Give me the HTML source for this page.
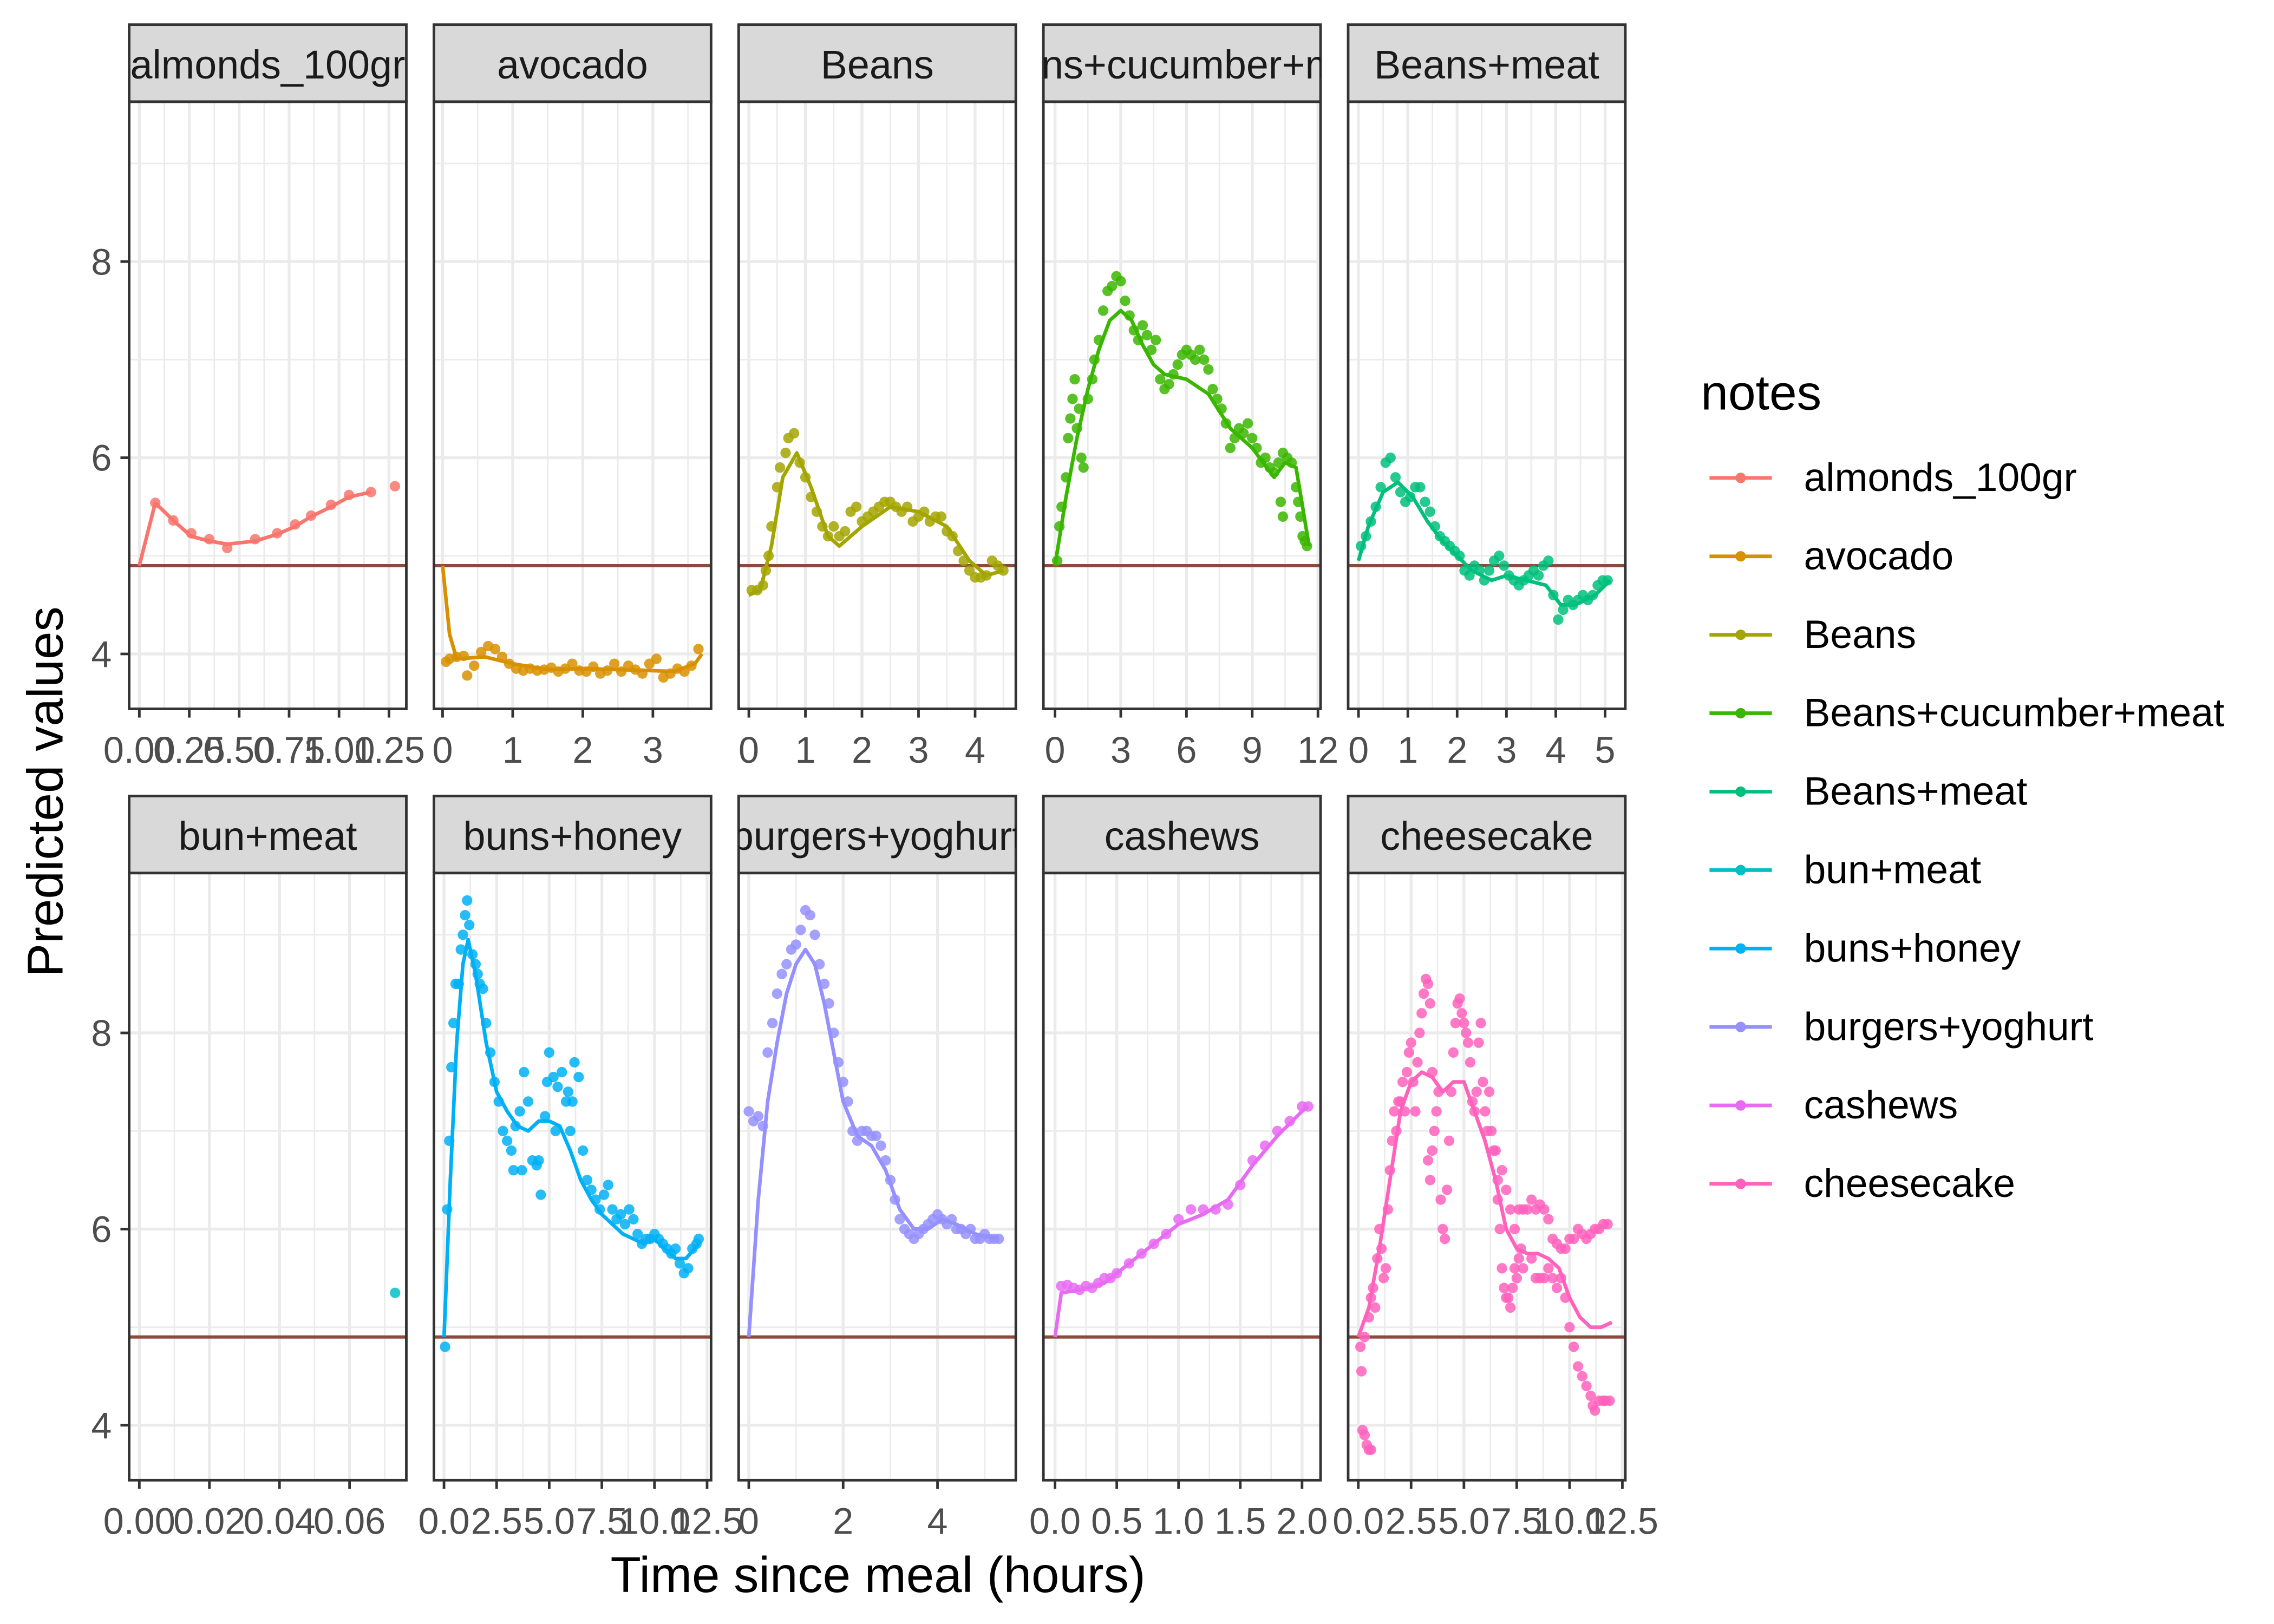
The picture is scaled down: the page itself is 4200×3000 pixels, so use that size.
<!DOCTYPE html>
<html><head><meta charset="utf-8"><style>html,body{margin:0;padding:0;background:#fff}svg{display:block}</style></head>
<body>
<svg id="chart" width="4200" height="3000" viewBox="0 0 1567 1118" preserveAspectRatio="none" xmlns="http://www.w3.org/2000/svg" font-family="Liberation Sans, Arial, sans-serif"></svg>
<script>
const panelNames = ["almonds_100gr","avocado","Beans","Beans+cucumber+meat","Beans+meat","bun+meat","buns+honey","burgers+yoghurt","cashews","cheesecake"];
const panelColors = ["#F8766D","#D89000","#A3A500","#39B600","#00BF7D","#00BFC4","#00B0F6","#9590FF","#E76BF3","#FF62BC"];
const xDomains = [[-0.051,1.337],[-0.124,3.83],[-0.18,4.72],[-0.53,12.12],[-0.21,5.41],[-0.0029,0.0762],[-0.48,12.69],[-0.215,5.66],[-0.094,2.15],[-0.48,12.64]];
const xTicks = [[0,0.25,0.5,0.75,1,1.25],[0,1,2,3],[0,1,2,3,4],[0,3,6,9,12],[0,1,2,3,4,5],[0,0.02,0.04,0.06],[0,2.5,5,7.5,10,12.5],[0,2,4],[0,0.5,1,1.5,2],[0,2.5,5,7.5,10,12.5]];
const xTickLabels = [["0.00","0.25","0.50","0.75","1.00","1.25"],["0","1","2","3"],["0","1","2","3","4"],["0","3","6","9","12"],["0","1","2","3","4","5"],["0.00","0.02","0.04","0.06"],["0.0","2.5","5.0","7.5","10.0","12.5"],["0","2","4"],["0.0","0.5","1.0","1.5","2.0"],["0.0","2.5","5.0","7.5","10.0","12.5"]];
const yTicks = [4,6,8];
const yMinor = [5,7,9];
const refLine = 4.9;

const pts0 = [[0.08,5.54],[0.17,5.36],[0.26,5.23],[0.35,5.17],[0.44,5.08],[0.58,5.17],[0.69,5.23],[0.78,5.32],[0.86,5.41],[0.96,5.52],[1.05,5.62],[1.16,5.65],[1.28,5.71]];
const fit0 = [[0,4.9],[0.08,5.54],[0.17,5.36],[0.26,5.2],[0.35,5.15],[0.44,5.12],[0.58,5.15],[0.69,5.22],[0.78,5.3],[0.86,5.4],[0.96,5.5],[1.05,5.6],[1.16,5.65]];
const pts1 = [[0.05,3.92],[0.1,3.95],[0.2,3.97],[0.3,3.98],[0.35,3.78],[0.45,3.88],[0.55,4.02],[0.65,4.08],[0.75,4.05],[0.85,3.97],[0.95,3.9],[1.05,3.85],[1.15,3.83],[1.25,3.85],[1.35,3.83],[1.45,3.84],[1.55,3.86],[1.65,3.82],[1.75,3.85],[1.85,3.9],[1.95,3.83],[2.05,3.82],[2.15,3.87],[2.25,3.8],[2.35,3.83],[2.45,3.9],[2.55,3.82],[2.65,3.88],[2.75,3.84],[2.85,3.8],[2.95,3.9],[3.05,3.95],[3.15,3.76],[3.25,3.8],[3.35,3.85],[3.45,3.82],[3.55,3.88],[3.65,4.05]];
const fit1 = [[0,4.9],[0.1,4.2],[0.2,3.95],[0.6,3.97],[1,3.9],[1.5,3.84],[2,3.85],[2.5,3.84],[3,3.83],[3.3,3.82],[3.6,3.9],[3.7,4.0]];
const pts2 = [[0.05,4.65],[0.15,4.65],[0.25,4.7],[0.3,4.85],[0.35,5.0],[0.4,5.3],[0.5,5.7],[0.55,5.9],[0.65,6.05],[0.7,6.2],[0.8,6.25],[0.9,5.95],[1.0,5.8],[1.1,5.6],[1.2,5.45],[1.3,5.3],[1.4,5.2],[1.5,5.3],[1.6,5.2],[1.7,5.25],[1.8,5.45],[1.9,5.5],[2.0,5.35],[2.1,5.4],[2.2,5.45],[2.3,5.5],[2.4,5.55],[2.5,5.55],[2.6,5.5],[2.7,5.45],[2.8,5.5],[2.9,5.35],[3.0,5.4],[3.1,5.45],[3.2,5.35],[3.3,5.4],[3.4,5.4],[3.5,5.25],[3.6,5.2],[3.7,5.05],[3.8,4.95],[3.9,4.85],[4.0,4.78],[4.1,4.78],[4.2,4.8],[4.3,4.95],[4.4,4.9],[4.5,4.85]];
const fit2 = [[0,4.6],[0.2,4.65],[0.4,5.1],[0.6,5.8],[0.85,6.05],[1.1,5.7],[1.4,5.2],[1.6,5.1],[2,5.3],[2.5,5.5],[3,5.45],[3.5,5.3],[3.9,4.95],[4.2,4.8],[4.5,4.85]];
const pts3 = [[0.1,4.95],[0.2,5.3],[0.3,5.5],[0.5,5.8],[0.6,6.2],[0.7,6.4],[0.8,6.6],[0.9,6.8],[1.0,6.3],[1.1,6.5],[1.2,6.0],[1.3,5.9],[1.5,6.6],[1.7,6.8],[1.8,7.0],[2.0,7.2],[2.2,7.5],[2.4,7.7],[2.6,7.75],[2.8,7.85],[3.0,7.8],[3.2,7.6],[3.4,7.45],[3.6,7.3],[3.8,7.2],[4.0,7.35],[4.2,7.25],[4.4,7.1],[4.6,7.2],[4.8,6.8],[5.0,6.7],[5.2,6.75],[5.4,6.85],[5.6,6.95],[5.8,7.05],[6.0,7.1],[6.2,7.05],[6.4,7.0],[6.6,7.1],[6.8,7.0],[7.0,6.9],[7.2,6.7],[7.4,6.6],[7.6,6.5],[7.8,6.35],[8.0,6.1],[8.2,6.2],[8.4,6.3],[8.6,6.25],[8.8,6.35],[9.0,6.2],[9.2,6.1],[9.4,5.95],[9.6,6.0],[9.8,5.9],[10.0,5.85],[10.2,5.95],[10.4,6.05],[10.6,6.0],[10.8,5.95],[11.0,5.7],[11.1,5.55],[11.2,5.4],[11.3,5.2],[11.4,5.15],[11.5,5.1],[10.3,5.55],[10.4,5.4]];
const fit3 = [[0,4.9],[0.5,5.6],[1,6.2],[1.5,6.7],[2,7.1],[2.5,7.4],[3,7.5],[3.5,7.4],[4,7.15],[4.5,6.95],[5,6.85],[6,6.8],[7,6.65],[8,6.3],[9,6.1],[9.5,5.95],[10,5.8],[10.5,5.95],[11,5.9],[11.3,5.5],[11.6,5.1]];
const pts4 = [[0.05,5.1],[0.15,5.2],[0.25,5.35],[0.35,5.5],[0.45,5.7],[0.55,5.95],[0.65,6.0],[0.75,5.8],[0.85,5.65],[0.95,5.55],[1.05,5.6],[1.15,5.7],[1.25,5.7],[1.35,5.55],[1.45,5.45],[1.55,5.3],[1.65,5.2],[1.75,5.15],[1.85,5.1],[1.95,5.05],[2.05,5.0],[2.15,4.85],[2.25,4.8],[2.35,4.9],[2.45,4.85],[2.55,4.75],[2.65,4.85],[2.75,4.95],[2.85,5.0],[2.95,4.9],[3.05,4.8],[3.15,4.75],[3.25,4.7],[3.35,4.75],[3.45,4.8],[3.55,4.85],[3.65,4.8],[3.75,4.9],[3.85,4.95],[3.95,4.6],[4.05,4.35],[4.15,4.45],[4.25,4.55],[4.35,4.5],[4.45,4.55],[4.55,4.6],[4.65,4.55],[4.75,4.6],[4.85,4.7],[4.95,4.75],[5.05,4.75]];
const fit4 = [[0,4.95],[0.2,5.3],[0.5,5.65],[0.8,5.75],[1.1,5.6],[1.4,5.35],[1.7,5.15],[2,5.0],[2.3,4.85],[2.7,4.75],[3,4.8],[3.4,4.75],[3.8,4.7],[4.1,4.5],[4.4,4.5],[4.8,4.6],[5.1,4.75]];
const pts5 = [[0.073,5.35]];
const fit5 = [];
const pts6 = [[0.05,4.8],[0.15,6.2],[0.25,6.9],[0.35,7.65],[0.45,8.1],[0.55,8.5],[0.7,8.5],[0.8,8.85],[0.9,9.0],[1.0,9.2],[1.1,9.35],[1.2,9.1],[1.35,8.8],[1.5,8.7],[1.6,8.6],[1.7,8.5],[1.85,8.45],[2.0,8.1],[2.2,7.8],[2.4,7.5],[2.6,7.3],[2.8,7.0],[3.0,6.9],[3.2,6.8],[3.4,7.05],[3.6,7.2],[3.8,7.6],[4.0,7.3],[4.2,6.7],[4.4,6.65],[4.6,6.35],[4.8,7.15],[5.0,7.8],[5.2,7.55],[5.4,7.45],[5.6,7.6],[5.8,7.3],[6.0,7.0],[6.2,7.7],[6.4,7.55],[6.6,6.8],[6.8,6.5],[7.0,6.4],[7.2,6.3],[7.4,6.2],[7.6,6.35],[7.8,6.45],[8.0,6.2],[8.2,6.1],[8.4,6.15],[8.6,6.05],[8.8,6.2],[9.0,6.1],[9.2,5.95],[9.4,5.85],[9.6,5.9],[9.8,5.9],[10.0,5.95],[10.2,5.9],[10.4,5.85],[10.6,5.8],[10.8,5.75],[11.0,5.8],[11.2,5.65],[11.4,5.55],[11.6,5.6],[11.8,5.8],[12.0,5.85],[12.1,5.9],[3.3,6.6],[3.7,6.6],[4.5,6.7],[4.9,7.5],[5.3,7.0],[5.9,7.4],[6.1,7.3]];
const fit6 = [[0,4.9],[0.3,6.5],[0.6,7.9],[0.9,8.7],[1.15,8.95],[1.5,8.6],[2,7.9],[2.5,7.4],[3,7.2],[3.5,7.05],[4,7.0],[4.5,7.1],[5,7.1],[5.5,7.05],[6,6.8],[6.5,6.5],[7,6.3],[7.5,6.15],[8,6.05],[8.5,5.95],[9,5.9],[9.5,5.85],[10,5.9],[10.5,5.8],[11,5.7],[11.5,5.7],[12.1,5.85]];
const pts7 = [[0.0,7.2],[0.1,7.1],[0.2,7.15],[0.3,7.05],[0.4,7.8],[0.5,8.1],[0.6,8.4],[0.7,8.6],[0.8,8.7],[0.9,8.85],[1.0,8.9],[1.1,9.05],[1.2,9.25],[1.3,9.2],[1.4,9.0],[1.5,8.7],[1.6,8.5],[1.7,8.3],[1.8,8.0],[1.9,7.7],[2.0,7.5],[2.1,7.3],[2.2,7.0],[2.3,6.9],[2.4,7.0],[2.5,7.0],[2.6,6.95],[2.7,6.95],[2.8,6.85],[2.9,6.7],[3.0,6.5],[3.1,6.3],[3.2,6.1],[3.3,6.0],[3.4,5.95],[3.5,5.9],[3.6,5.95],[3.7,6.0],[3.8,6.05],[3.9,6.1],[4.0,6.15],[4.1,6.1],[4.2,6.05],[4.3,6.1],[4.4,6.0],[4.5,6.0],[4.6,5.95],[4.7,6.0],[4.8,5.9],[4.9,5.9],[5.0,5.95],[5.1,5.9],[5.2,5.9],[5.3,5.9]];
const fit7 = [[0,4.9],[0.2,6.3],[0.4,7.3],[0.6,7.9],[0.8,8.4],[1.0,8.7],[1.2,8.85],[1.4,8.7],[1.6,8.3],[1.8,7.8],[2.0,7.3],[2.3,6.95],[2.6,6.85],[2.9,6.6],[3.2,6.2],[3.5,6.0],[3.8,6.0],[4.1,6.1],[4.4,6.05],[4.8,5.95],[5.3,5.9]];
const pts8 = [[0.05,5.42],[0.1,5.43],[0.15,5.4],[0.2,5.38],[0.25,5.42],[0.3,5.4],[0.35,5.45],[0.4,5.5],[0.45,5.5],[0.5,5.55],[0.6,5.65],[0.7,5.75],[0.8,5.85],[0.9,5.95],[1.0,6.1],[1.1,6.2],[1.2,6.2],[1.3,6.2],[1.4,6.25],[1.5,6.45],[1.6,6.7],[1.7,6.85],[1.8,7.0],[1.9,7.1],[2.0,7.25],[2.05,7.25]];
const fit8 = [[0,4.9],[0.05,5.35],[0.2,5.38],[0.4,5.45],[0.6,5.65],[0.8,5.85],[1.0,6.05],[1.2,6.15],[1.4,6.3],[1.6,6.65],[1.8,6.95],[2.0,7.2],[2.05,7.25]];
const pts9 = [[0.1,4.8],[0.15,4.55],[0.2,3.95],[0.3,3.9],[0.4,3.8],[0.5,3.75],[0.6,3.75],[0.3,4.9],[0.5,5.1],[0.6,5.3],[0.7,5.4],[0.8,5.2],[0.9,5.7],[1.0,6.0],[1.1,5.8],[1.2,5.5],[1.3,5.6],[1.4,6.2],[1.5,6.6],[1.6,6.9],[1.7,7.2],[1.8,7.0],[1.9,7.3],[2.0,7.3],[2.1,7.5],[2.2,7.2],[2.3,7.6],[2.4,7.8],[2.5,7.9],[2.6,7.5],[2.7,7.2],[2.8,7.7],[2.9,8.0],[3.0,8.2],[3.1,8.4],[3.2,8.55],[3.3,8.5],[3.4,8.3],[3.5,7.6],[3.3,6.7],[3.4,6.5],[3.5,6.8],[3.6,7.0],[3.7,7.2],[3.8,7.4],[3.9,6.3],[4.0,6.0],[4.1,5.9],[4.2,6.4],[4.3,6.9],[4.4,7.4],[4.5,7.8],[4.6,8.1],[4.7,8.3],[4.8,8.35],[4.9,8.2],[5.0,8.1],[5.1,8.0],[5.2,7.9],[5.3,7.7],[5.4,7.3],[5.5,7.2],[5.6,7.4],[5.7,7.9],[5.8,8.1],[5.9,7.5],[6.0,7.2],[6.1,7.0],[6.2,7.4],[6.3,7.0],[6.4,6.8],[6.5,6.8],[6.6,6.3],[6.7,6.0],[6.8,5.6],[6.9,5.4],[7.0,5.3],[7.1,5.3],[7.2,5.2],[7.3,5.4],[7.4,5.6],[7.5,5.5],[7.6,5.7],[7.7,5.8],[7.8,5.6],[6.6,6.5],[6.8,6.6],[7.0,6.4],[7.2,6.2],[7.4,6.0],[7.6,6.2],[7.8,6.2],[8.0,6.2],[8.2,6.3],[8.4,6.2],[8.6,6.25],[8.8,6.2],[9.0,6.1],[9.2,5.9],[9.4,5.85],[9.6,5.8],[8.2,5.7],[8.4,5.5],[8.6,5.5],[8.8,5.5],[9.0,5.6],[9.2,5.5],[9.4,5.4],[9.6,5.5],[9.8,5.3],[10.0,5.0],[10.2,4.8],[10.4,4.6],[10.6,4.5],[10.8,4.4],[11.0,4.3],[11.1,4.2],[11.2,4.15],[11.4,4.25],[11.6,4.25],[9.8,5.8],[10.0,5.9],[10.2,5.9],[10.4,6.0],[10.6,5.95],[10.8,5.9],[11.0,5.95],[11.2,6.0],[11.4,6.0],[11.6,6.05],[11.8,6.05],[11.7,4.25],[11.9,4.25]];
const fit9 = [[0,4.9],[0.5,5.2],[1,5.8],[1.5,6.5],[2,7.2],[2.5,7.5],[3,7.6],[3.5,7.55],[4,7.4],[4.5,7.5],[5,7.5],[5.5,7.2],[6,6.9],[6.5,6.5],[7,6.0],[7.5,5.8],[8,5.75],[8.5,5.75],[9,5.7],[9.5,5.6],[10,5.3],[10.5,5.1],[11,5.0],[11.5,5.0],[12,5.05]];
const panelPoints = [pts0,pts1,pts2,pts3,pts4,pts5,pts6,pts7,pts8,pts9];
const panelFits = [fit0,fit1,fit2,fit3,fit4,fit5,fit6,fit7,fit8,fit9];

const NS = "http://www.w3.org/2000/svg";
const svg = document.getElementById('chart');
function mk(tag, attrs, parent, text){ const e=document.createElementNS(NS,tag); for(const k in attrs) e.setAttribute(k,attrs[k]); if(text!==undefined) e.textContent=text; (parent||svg).appendChild(e); return e; }

const colLeft = [89,299,509,719,929], pw = 191;
const rowStripTop = [17,548], stripH = 53, ph = 418;
const yDom = [3.44, 9.63];

const defs = mk('defs',{});
for(let i=0;i<10;i++){
  const r=Math.floor(i/5), c=i%5;
  const L=colLeft[c], T=rowStripTop[r]+stripH, R=L+pw, B=T+ph;
  const xs = v => L + (v-xDomains[i][0])/(xDomains[i][1]-xDomains[i][0])*pw;
  const ys = v => B - (v-yDom[0])/(yDom[1]-yDom[0])*ph;
  const cp = mk('clipPath',{id:'cp'+i},defs); mk('rect',{x:L,y:T,width:pw,height:ph},cp);
  const cs = mk('clipPath',{id:'cs'+i},defs); mk('rect',{x:L,y:rowStripTop[r],width:pw,height:stripH},cs);
  const g = mk('g',{});
  
  
  mk('rect',{x:L,y:T,width:pw,height:ph,fill:'#fff'},g);
  const grid = mk('g',{'clip-path':'url(#cp'+i+')'},g);
  
  
  yMinor.forEach(v=>mk('line',{x1:L,x2:R,y1:ys(v),y2:ys(v),stroke:'#EBEBEB','stroke-width':1},grid));
  const t=xTicks[i], st=t[1]-t[0];
  const minors=[]; for(let k=-1;k<t.length;k++) minors.push(t[0]+(k+0.5)*st);
  minors.forEach(v=>mk('line',{x1:xs(v),x2:xs(v),y1:T,y2:B,stroke:'#EBEBEB','stroke-width':1},grid));
  yTicks.forEach(v=>mk('line',{x1:L,x2:R,y1:ys(v),y2:ys(v),stroke:'#EBEBEB','stroke-width':2},grid));
  t.forEach(v=>mk('line',{x1:xs(v),x2:xs(v),y1:T,y2:B,stroke:'#EBEBEB','stroke-width':2},grid));
  const hl = mk('line',{x1:L,x2:R,y1:ys(refLine),y2:ys(refLine),stroke:'#8B4A3B','stroke-width':2.2},g);
  
  
  const marks = mk('g',{'clip-path':'url(#cp'+i+')'},g);
  const fit = panelFits[i];
  if(fit.length){
    const pl = mk('polyline',{points:fit.map(p=>xs(p[0]).toFixed(1)+','+ys(p[1]).toFixed(1)).join(' '),fill:'none',stroke:panelColors[i],'stroke-width':2.5,'stroke-linejoin':'round'},marks);
    
    
  }
  panelPoints[i].forEach(p=>{
    const cc = mk('circle',{cx:xs(p[0]),cy:ys(p[1]),r:3.6,fill:panelColors[i],'fill-opacity':0.85},marks);
    
    
  });
  mk('rect',{x:L,y:T,width:pw,height:ph,fill:'none',stroke:'#333','stroke-width':1.8},g);
  const strip = mk('rect',{x:L,y:rowStripTop[r],width:pw,height:stripH,fill:'#D9D9D9',stroke:'#333','stroke-width':1.8},g);
  
  
  const stx = mk('text',{x:L+pw/2,y:rowStripTop[r]+37,'text-anchor':'middle','font-size':27.5,fill:'#1A1A1A','clip-path':'url(#cs'+i+')'},g,panelNames[i]);
  
  
  t.forEach((v,k)=>{
    mk('line',{x1:xs(v),x2:xs(v),y1:B,y2:B+6,stroke:'#333','stroke-width':1.8},g);
    const tl = mk('text',{x:xs(v),y:B+37,'text-anchor':'middle','font-size':25.5,fill:'#4D4D4D'},g,xTickLabels[i][k]);
    
    
  });
  if(c===0){
    yTicks.forEach(v=>{
      mk('line',{x1:L-6,x2:L,y1:ys(v),y2:ys(v),stroke:'#333','stroke-width':1.8},g);
      const yl = mk('text',{x:L-12,y:ys(v)+9,'text-anchor':'end','font-size':25.5,fill:'#4D4D4D'},g,String(v));
      
      
    });
  }
}
const yt = mk('text',{x:0,y:0,transform:'translate(43,545) rotate(-90)','text-anchor':'middle','font-size':34.5,fill:'#000'},svg,'Predicted values');


const xt = mk('text',{x:605,y:1096,'text-anchor':'middle','font-size':34.5,fill:'#000'},svg,'Time since meal (hours)');


const lg = mk('g',{});


const lt = mk('text',{x:1172,y:282,'font-size':34,fill:'#000'},lg,'notes');


panelNames.forEach((n,k)=>{
  const y=329+k*54;
  const e = mk('g',{},lg);
  
  
  mk('line',{x1:1178,x2:1221,y1:y,y2:y,stroke:panelColors[k],'stroke-width':2.5},e);
  mk('circle',{cx:1199.5,cy:y,r:3.6,fill:panelColors[k]},e);
  mk('text',{x:1243,y:y+9,'font-size':27.3,fill:'#000'},e,n);
});
</script>
</body></html>
